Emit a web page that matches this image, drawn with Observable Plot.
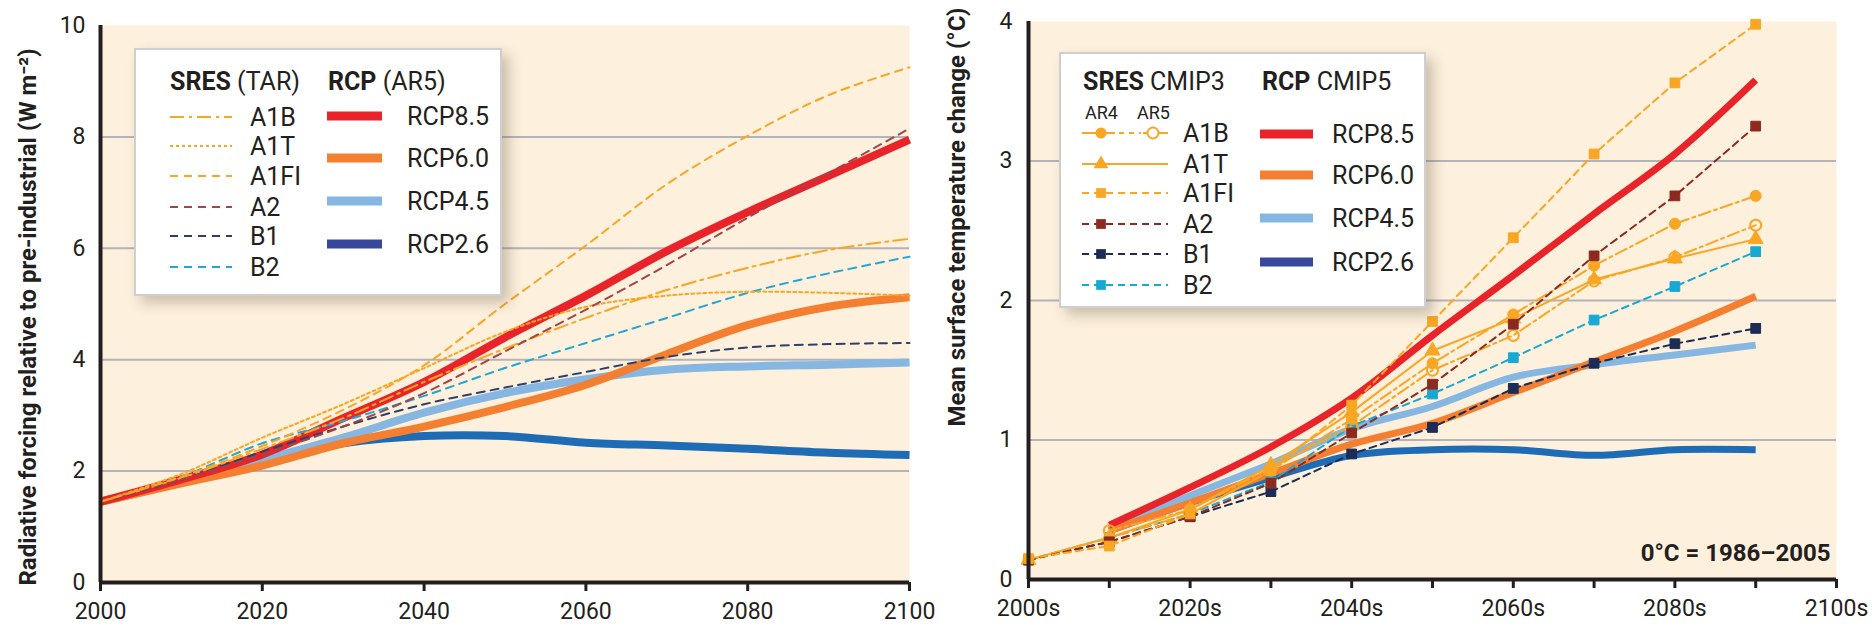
<!DOCTYPE html>
<html>
<head>
<meta charset="utf-8">
<script src="https://cdn.jsdelivr.net/npm/d3@7"></script>
<script src="https://cdn.jsdelivr.net/npm/@observablehq/plot@0.6"></script>
<style>
  html, body { margin: 0; padding: 0; background: #fff; }
  body { width: 1872px; height: 626px; position: relative; overflow: hidden;
         font-family: "Liberation Sans Narrow", "Roboto", "Liberation Sans", sans-serif; color: #231f20; }
  .panel { position: absolute; top: 0; }
  #left svg { overflow: visible; }
  #right svg { overflow: hidden; }
  .legend { position: absolute; background: #fff; border: 2px solid #cfcfd2;
            box-shadow: 7px 7px 12px rgba(90, 80, 60, 0.30); box-sizing: border-box; }
  .legend svg { position: absolute; left: -2px; top: -2px; overflow: visible; }
</style>
</head>
<body>
<div id="left" class="panel" style="left:0;width:920px;height:626px"></div>
<div id="right" class="panel" style="left:930px;width:942px;height:626px"></div>
<div id="legL" class="legend" style="left:134px;top:48px;width:368px;height:248px"></div>
<div id="legR" class="legend" style="left:1059px;top:52px;width:367px;height:256px"></div>
<script>
// ---- Radiative forcing (W m-2), every 10 years 2000–2100 ----
const rfYears = [2000, 2010, 2020, 2030, 2040, 2050, 2060, 2070, 2080, 2090, 2100];
const rfRCP85 = [1.45, 1.85, 2.3, 2.95, 3.6, 4.4, 5.15, 5.95, 6.65, 7.3, 7.95];
const rfRCP60 = [1.45, 1.78, 2.1, 2.5, 2.8, 3.15, 3.55, 4.1, 4.62, 4.95, 5.12];
const rfRCP45 = [1.45, 1.8, 2.2, 2.6, 3.05, 3.4, 3.65, 3.82, 3.88, 3.91, 3.95];
const rfRCP26 = [1.45, 1.8, 2.2, 2.5, 2.63, 2.63, 2.51, 2.46, 2.4, 2.33, 2.29];
const rfA1B  = [1.45, 1.88, 2.4, 2.95, 3.6, 4.2, 4.75, 5.25, 5.65, 5.97, 6.17];
const rfA1T  = [1.45, 1.95, 2.6, 3.2, 3.85, 4.5, 4.95, 5.15, 5.22, 5.2, 5.15];
const rfA1FI = [1.45, 1.9, 2.45, 3.1, 3.9, 5.0, 6.05, 7.15, 8.02, 8.75, 9.25];
const rfA2   = [1.45, 1.85, 2.3, 2.8, 3.4, 4.15, 4.9, 5.7, 6.55, 7.35, 8.15];
const rfB1   = [1.45, 1.85, 2.35, 2.8, 3.2, 3.5, 3.78, 4.05, 4.22, 4.28, 4.3];
const rfB2   = [1.45, 1.9, 2.5, 2.9, 3.35, 3.85, 4.3, 4.75, 5.2, 5.55, 5.85];
const rfTicksX = [2000, 2020, 2040, 2060, 2080, 2100];
const rfTicksY = [0, 2, 4, 6, 8, 10];

// ---- Mean surface temperature change (°C), by decade ----
const decades    = [2000, 2010, 2020, 2030, 2040, 2050, 2060, 2070, 2080, 2090];
const rcpDecades = [2010, 2020, 2030, 2040, 2050, 2060, 2070, 2080, 2090];
const tRCP85 = [0.39, 0.66, 0.95, 1.3, 1.75, 2.18, 2.62, 3.05, 3.58];
const tRCP60 = [0.35, 0.55, 0.76, 0.97, 1.12, 1.34, 1.56, 1.78, 2.03];
const tRCP45 = [0.36, 0.6, 0.83, 1.08, 1.24, 1.45, 1.54, 1.61, 1.68];
const tRCP26 = [0.35, 0.55, 0.73, 0.89, 0.93, 0.93, 0.89, 0.93, 0.93];
const tA1B_AR4 = [0.14, 0.3, 0.47, 0.78, 1.15, 1.55, 1.9, 2.25, 2.55, 2.75];
const tA1B_AR5 = [0.35, 0.5, 0.8, 1.1, 1.5, 1.75, 2.14, 2.31, 2.54];
const tA1T  = [0.14, 0.3, 0.5, 0.82, 1.2, 1.64, 1.87, 2.15, 2.3, 2.44];
const tA1FI = [0.15, 0.24, 0.47, 0.78, 1.25, 1.85, 2.45, 3.05, 3.56, 3.98];
const tA2   = [0.14, 0.27, 0.45, 0.69, 1.05, 1.4, 1.83, 2.32, 2.75, 3.25];
const tB1   = [0.14, 0.27, 0.45, 0.63, 0.9, 1.09, 1.37, 1.55, 1.69, 1.8];
const tB2   = [0.14, 0.3, 0.47, 0.7, 1.1, 1.33, 1.59, 1.86, 2.1, 2.35];
const tTicksX = [2000, 2010, 2020, 2030, 2040, 2050, 2060, 2070, 2080, 2090, 2100];
const tTicksY = [0, 1, 2, 3, 4];

// ---- shared styling ----
const FONT = '"Liberation Sans Narrow", "Roboto", "Liberation Sans", sans-serif';
const INK = "#231f20";
const CREAM = "#fdf0dc";
const GRID = "#b3b3ba";
const ORANGE = "#f8a623";
const C = {
  RCP85: "#e8242a", RCP60: "#f47f30", RCP45: "#86b6e2", RCP26: "#1f6cb6", RCP26key: "#37479b",
  A2L: "#a3444a", B1L: "#2f3f6c", B2L: "#21a6d6",
  A2R: "#8d2a20", B1R: "#1c2c56", B2R: "#18a9d3"
};

const rows = (name, xs, ys) => xs.map((x, i) => ({name, x, y: ys[i]}));

// ---------------- left panel: radiative forcing ----------------
const rcpLeft = [
  ["RCP2.6", rfRCP26, C.RCP26], ["RCP4.5", rfRCP45, C.RCP45],
  ["RCP6.0", rfRCP60, C.RCP60], ["RCP8.5", rfRCP85, C.RCP85]
];
const sresLeft = [
  ["B1", rfB1, C.B1L, "8,6"], ["B2", rfB2, C.B2L, "8,6"],
  ["A1T", rfA1T, ORANGE, "3,3"], ["A1B", rfA1B, ORANGE, "14,5,3,5"],
  ["A2", rfA2, C.A2L, "8,6"], ["A1FI", rfA1FI, ORANGE, "8,6"]
];

const left = Plot.plot({
  width: 920, height: 626,
  marginLeft: 100, marginRight: 11, marginTop: 25, marginBottom: 44,
  style: {fontFamily: FONT, color: INK, background: "transparent", overflow: "visible"},
  x: {domain: [2000, 2100]},
  y: {domain: [0, 10]},
  marks: [
    Plot.frame({fill: CREAM, stroke: null}),
    Plot.ruleY([2, 4, 6, 8], {stroke: GRID, strokeWidth: 2}),
    ...rcpLeft.map(([n, v, c]) => Plot.line(rows(n, rfYears, v), {
      x: "x", y: "y", stroke: c, strokeWidth: 8, curve: "catmull-rom", strokeLinecap: "butt"
    })),
    ...sresLeft.map(([n, v, c, d]) => Plot.line(rows(n, rfYears, v), {
      x: "x", y: "y", stroke: c, strokeWidth: 2, strokeDasharray: d, curve: "catmull-rom"
    })),
    Plot.axisY({ticks: rfTicksY, tickSize: 0, tickPadding: 15, fontSize: 23, label: null,
      tickFormat: d => String(d)}),
    Plot.axisX({ticks: rfTicksX, tickSize: 9, tickPadding: 11, fontSize: 23, strokeWidth: 3,
      tickFormat: d => String(d), label: null}),
    Plot.ruleX([2000], {stroke: INK, strokeWidth: 4}),
    Plot.ruleY([0], {stroke: INK, strokeWidth: 4}),
    Plot.text(["Radiative forcing relative to pre-industrial (W m⁻²)"], {
      text: d => d, frameAnchor: "left", dx: -72, dy: 13, rotate: -90,
      textAnchor: "middle", lineAnchor: "middle", fontSize: 24, fontWeight: "bold", fill: INK
    })
  ]
});
document.getElementById("left").append(left);

// ---------------- right panel: temperature change ----------------
const rcpRight = [
  ["RCP2.6", tRCP26, C.RCP26], ["RCP4.5", tRCP45, C.RCP45],
  ["RCP6.0", tRCP60, C.RCP60], ["RCP8.5", tRCP85, C.RCP85]
];
// name, x, values, colour, dash, symbol, filled
const sresRight = [
  ["B1", decades, tB1, C.B1R, "7,5", "square", true],
  ["B2", decades, tB2, C.B2R, "7,5", "square", true],
  ["A1T", decades, tA1T, ORANGE, null, "triangle", true],
  ["A1B AR5", rcpDecades, tA1B_AR5, ORANGE, "12,4,3,4", "circle", false],
  ["A1B AR4", decades, tA1B_AR4, ORANGE, "12,4,3,4", "circle", true],
  ["A2", decades, tA2, C.A2R, "7,5", "square", true],
  ["A1FI", decades, tA1FI, ORANGE, "7,5", "square", true]
];

const right = Plot.plot({
  width: 942, height: 626,
  marginLeft: 98, marginRight: 36, marginTop: 21, marginBottom: 47,
  style: {fontFamily: FONT, color: INK, background: "transparent", overflow: "hidden"},
  x: {domain: [2000, 2100]},
  y: {domain: [0, 4]},
  marks: [
    Plot.frame({fill: CREAM, stroke: null}),
    Plot.ruleY([1, 2, 3], {stroke: GRID, strokeWidth: 2}),
    ...rcpRight.map(([n, v, c]) => Plot.line(rows(n, rcpDecades, v), {
      x: "x", y: "y", stroke: c, strokeWidth: 7, curve: "catmull-rom", strokeLinecap: "butt"
    })),
    ...sresRight.flatMap(([n, xs, v, c, d, sym, filled]) => [
      Plot.line(rows(n, xs, v), {x: "x", y: "y", stroke: c, strokeWidth: 2, strokeDasharray: d}),
      Plot.dot(rows(n, xs, v), {
        x: "x", y: "y", symbol: sym, r: 5.5,
        fill: filled ? c : "none", stroke: c, strokeWidth: filled ? 1 : 2
      })
    ]),
    Plot.axisY({ticks: tTicksY, tickSize: 0, tickPadding: 16, fontSize: 23, label: null,
      tickFormat: d => String(d)}),
    Plot.axisX({ticks: tTicksX, tickSize: 9, tickPadding: 11, fontSize: 23, strokeWidth: 3,
      tickFormat: d => (d % 20 === 0 ? d + "s" : ""), label: null}),
    Plot.ruleX([2000], {stroke: INK, strokeWidth: 4}),
    Plot.ruleY([0], {stroke: INK, strokeWidth: 4}),
    Plot.text(["Mean surface temperature change (°C)"], {
      text: d => d, frameAnchor: "top-left", dx: -71, dy: -14, rotate: -90,
      textAnchor: "end", lineAnchor: "middle", fontSize: 24, fontWeight: "bold", fill: INK
    }),
    Plot.text(["0°C = 1986–2005"], {
      text: d => d, frameAnchor: "bottom-right", dx: -6, dy: -19,
      textAnchor: "end", lineAnchor: "bottom", fontSize: 24, fontWeight: "bold", fill: INK
    })
  ]
});
document.getElementById("right").append(right);

// ---------------- legends ----------------
const NS = "http://www.w3.org/2000/svg";
function el(parent, tag, attrs, text) {
  const e = document.createElementNS(NS, tag);
  for (const k in attrs) e.setAttribute(k, attrs[k]);
  if (text != null) e.textContent = text;
  parent.appendChild(e);
  return e;
}
function header(svg, x, y, bold, rest) {
  const t = el(svg, "text", {x, y, "font-size": 25, fill: INK, "font-family": FONT});
  el(t, "tspan", {"font-weight": "bold"}, bold);
  el(t, "tspan", {}, " " + rest);
}
function label(svg, x, y, s, size = 25) {
  el(svg, "text", {x, y, "font-size": size, fill: INK, "font-family": FONT, "dominant-baseline": "central"}, s);
}
function symbolPath(sym, cx, cy) {
  const s = d3.symbol(sym === "square" ? d3.symbolSquare : sym === "triangle" ? d3.symbolTriangle : d3.symbolCircle,
    Math.PI * 5.5 * 5.5)();
  return {d: s, transform: `translate(${cx},${cy})`};
}
function legendSvg(id, w, h) {
  const root = document.createElementNS(NS, "svg");
  root.setAttribute("width", w); root.setAttribute("height", h);
  document.getElementById(id).appendChild(root);
  return root;
}

// left legend
{
  const root = legendSvg("legL", 368, 248);
  header(root, 36, 42, "SRES", "(TAR)");
  header(root, 194, 42, "RCP", "(AR5)");
  const sresKeys = [
    ["A1B", ORANGE, "14,5,3,5"], ["A1T", ORANGE, "3,3"], ["A1FI", ORANGE, "8,6"],
    ["A2", C.A2L, "8,6"], ["B1", C.B1L, "8,6"], ["B2", C.B2L, "8,6"]
  ];
  const ys = [69, 98, 128, 159, 188, 219];
  sresKeys.forEach(([n, c, d], i) => {
    el(root, "line", {x1: 36, x2: 98, y1: ys[i], y2: ys[i], stroke: c, "stroke-width": 2, "stroke-dasharray": d});
    label(root, 116, ys[i], n);
  });
  const rcpKeys = [["RCP8.5", C.RCP85], ["RCP6.0", C.RCP60], ["RCP4.5", C.RCP45], ["RCP2.6", C.RCP26key]];
  const ry = [68, 110, 153, 196];
  rcpKeys.forEach(([n, c], i) => {
    el(root, "line", {x1: 193, x2: 248, y1: ry[i], y2: ry[i], stroke: c, "stroke-width": 9});
    label(root, 273, ry[i], n);
  });
}

// right legend
{
  const root = legendSvg("legR", 367, 256);
  header(root, 24, 38, "SRES", "CMIP3");
  header(root, 203, 38, "RCP", "CMIP5");
  label(root, 26, 60, "AR4", 18);
  label(root, 78, 60, "AR5", 18);
  const ys = [81, 112, 141, 172, 202, 233];
  // A1B: AR4 filled circle, AR5 open circle
  el(root, "line", {x1: 23, x2: 56, y1: ys[0], y2: ys[0], stroke: ORANGE, "stroke-width": 2});
  el(root, "line", {x1: 60, x2: 82, y1: ys[0], y2: ys[0], stroke: ORANGE, "stroke-width": 2, "stroke-dasharray": "5,5"});
  el(root, "line", {x1: 84, x2: 109, y1: ys[0], y2: ys[0], stroke: ORANGE, "stroke-width": 2});
  el(root, "path", {...symbolPath("circle", 42, ys[0]), fill: ORANGE});
  el(root, "path", {...symbolPath("circle", 94, ys[0]), fill: "#fff", stroke: ORANGE, "stroke-width": 2});
  label(root, 124, ys[0], "A1B");
  // A1T: solid with triangle
  el(root, "line", {x1: 23, x2: 109, y1: ys[1], y2: ys[1], stroke: ORANGE, "stroke-width": 2});
  el(root, "path", {...symbolPath("triangle", 42, ys[1]), fill: ORANGE});
  label(root, 124, ys[1], "A1T");
  const sq = [["A1FI", ORANGE], ["A2", C.A2R], ["B1", C.B1R], ["B2", C.B2R]];
  sq.forEach(([n, c], i) => {
    const y = ys[i + 2];
    el(root, "line", {x1: 23, x2: 109, y1: y, y2: y, stroke: c, "stroke-width": 2, "stroke-dasharray": "7,5"});
    el(root, "path", {...symbolPath("square", 42, y), fill: c});
    label(root, 124, y, n);
  });
  const rcpKeys = [["RCP8.5", C.RCP85], ["RCP6.0", C.RCP60], ["RCP4.5", C.RCP45], ["RCP2.6", C.RCP26key]];
  const ry = [82, 123, 166, 210];
  rcpKeys.forEach(([n, c], i) => {
    el(root, "line", {x1: 201, x2: 254, y1: ry[i], y2: ry[i], stroke: c, "stroke-width": 9});
    label(root, 273, ry[i], n);
  });
}
</script>
</body>
</html>
